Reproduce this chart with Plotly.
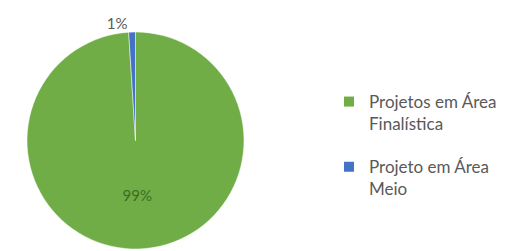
import plotly.graph_objects as go

labels = ["Projetos em Área<br>Finalística", "Projeto em Área<br>Meio"]
values = [99, 1]
colors = ["#70AD47", "#4472C4"]
text_colors = ["#3C6E22", "#595959"]
text_positions = ["inside", "outside"]

fig = go.Figure()
fig.add_trace(go.Pie(
    labels=labels,
    values=values,
    sort=False,
    direction="clockwise",
    rotation=0,
    marker=dict(colors=colors, line=dict(color="#FFFFFF", width=0.5)),
    textinfo="percent",
    texttemplate="%{percent:.0%}",
    textposition=text_positions,
    insidetextfont=dict(family="Lato", size=15, color=text_colors[0]),
    outsidetextfont=dict(family="Lato", size=15, color=text_colors[1]),
    domain=dict(x=[19/506, 236/506], y=[9/251, 228/251]),
    showlegend=False,
    hoverinfo="label+percent",
))

# legend entries (one group per slice so the gap between entries can be set)
for lab, col in zip(labels, colors):
    fig.add_trace(go.Scatter(
        x=[None], y=[None], mode="markers", name=lab,
        legendgroup=lab,
        marker=dict(symbol="square", size=10, color=col),
        showlegend=True,
    ))

fig.update_layout(
    width=506, height=251,
    margin=dict(l=0, r=0, t=0, b=0),
    paper_bgcolor="white",
    plot_bgcolor="white",
    font=dict(family="Lato", color="#595959"),
    xaxis=dict(visible=False),
    yaxis=dict(visible=False),
    legend=dict(
        x=321/506, xanchor="left",
        y=1 - 76/251, yanchor="top",
        font=dict(family="Lato", size=17, color="#595959"),
        traceorder="grouped",
        valign="top",
        tracegroupgap=18,
    ),
)

fig.write_html("out.html")
